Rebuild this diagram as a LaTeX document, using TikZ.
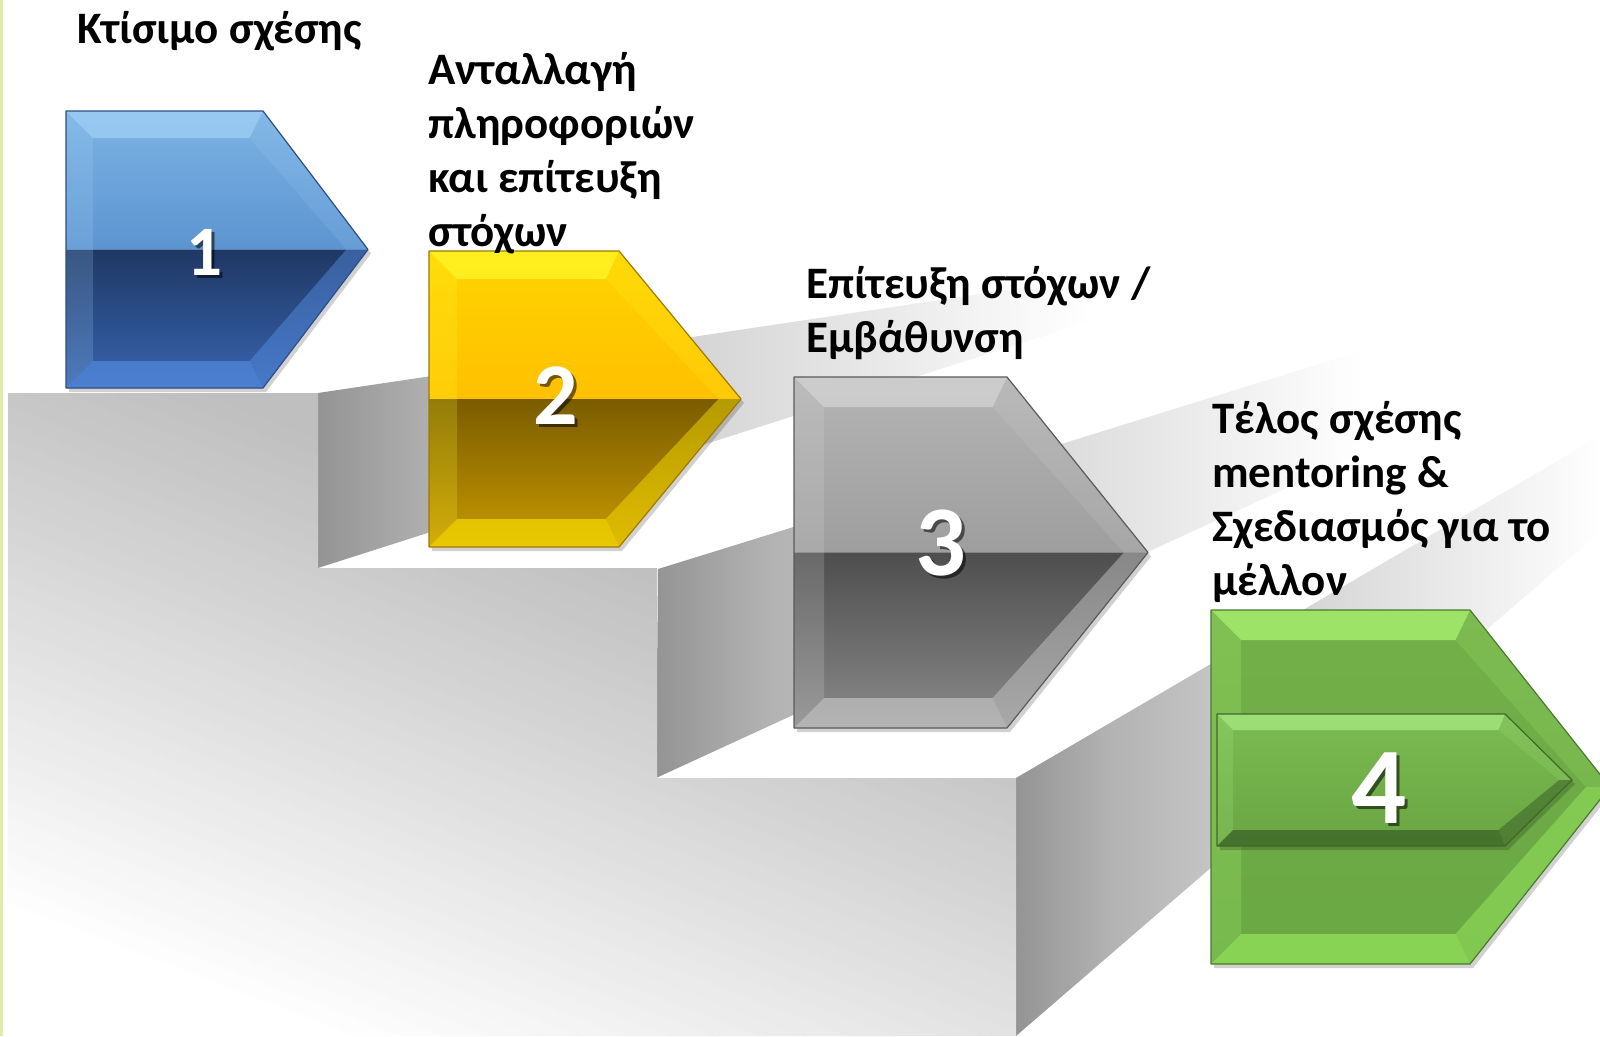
\documentclass[tikz,border=0pt]{standalone}
\usepackage{fontspec}
\setmainfont{Carlito}
\usetikzlibrary{calc}

\pgfdeclarehorizontalshading{riser}{100bp}{color(0bp)=(black!42); color(25bp)=(black!42); color(31bp)=(black!30); color(45bp)=(black!15); color(62.5bp)=(white); color(100bp)=(white)}

\newcommand\setarrowcolors[7]{%
  \definecolor{aUpTop}{HTML}{#1}\definecolor{aUpMid}{HTML}{#2}%
  \definecolor{aLoMid}{HTML}{#3}\definecolor{aLoBot}{HTML}{#4}%
  \definecolor{aHiT}{HTML}{#5}\definecolor{aHiB}{HTML}{#6}\definecolor{aEdge}{HTML}{#7}}

% #1 L, #2 T, #3 R (end of straight part), #4 X (tip), #5 B, #6 bevel width
\newcommand\bevelarrow[6]{%
  \pgfmathsetmacro\aM{(#2+#5)/2}%
  \pgfmathsetmacro\aA{#4-#3}%
  \pgfmathsetmacro\aH{\aM-#2}%
  \pgfmathsetmacro\aLen{100*sqrt((\aA/100)*(\aA/100)+(\aH/100)*(\aH/100))}%
  \pgfmathsetmacro\aNx{\aH/\aLen}%
  \pgfmathsetmacro\aNy{\aA/\aLen}%
  \pgfmathsetmacro\aRi{#3-#6*\aNx+(\aA/\aH)*#6*(1-\aNy)}%
  \pgfmathsetmacro\aXi{#4-0.8*#6}%
  \pgfmathsetmacro\aLi{#1+#6}%
  \pgfmathsetmacro\aTi{#2+#6}%
  \pgfmathsetmacro\aBi{#5-#6}%
  \fill[black,opacity=0.18] (#1+3,#2+4) -- (#3+3,#2+4) -- (#4+3,\aM+4) -- (#3+3,#5+4) -- (#1+3,#5+4) -- cycle;
  \shade[top color=aUpTop,bottom color=aUpMid] (#1,#2) -- (#3,#2) -- (#4,\aM) -- (#1,\aM) -- cycle;
  \shade[top color=aLoMid,bottom color=aLoBot] (#1,\aM) -- (#4,\aM) -- (#3,#5) -- (#1,#5) -- cycle;
  \fill[aHiT,opacity=0.65] (#1,#2) -- (#3,#2) -- (\aRi,\aTi) -- (\aLi,\aTi) -- cycle;
  \fill[aHiT,opacity=0.2] (#1,#2) -- (\aLi,\aTi) -- (\aLi,\aBi) -- (#1,#5) -- cycle;
  \fill[aHiB,opacity=0.6] (#1,#5) -- (\aLi,\aBi) -- (\aRi,\aBi) -- (#3,#5) -- cycle;
  \fill[aHiT,opacity=0.15] (#3,#2) -- (#4,\aM) -- (\aXi,\aM) -- (\aRi,\aTi) -- cycle;
  \fill[aHiB,opacity=0.45] (#4,\aM) -- (#3,#5) -- (\aRi,\aBi) -- (\aXi,\aM) -- cycle;
  \draw[aEdge,line width=1.2pt,line join=round] (#1,#2) -- (#3,#2) -- (#4,\aM) -- (#3,#5) -- (#1,#5) -- cycle;
}

\tikzset{
  lbl/.style={anchor=base west, inner sep=0pt, text=black, font=\fontsize{45}{54}\selectfont\bfseries},
  numtxt/.style={inner sep=0pt, text=white},
  numshadow/.style={inner sep=0pt, text=black, opacity=0.55},
  riserface/.style={shading=riser},
}

\begin{document}
\begin{tikzpicture}[x=1pt,y=-1pt]
\useasboundingbox (0,0) rectangle (1600,1036);
\clip (0,0) rectangle (1600,1036);
\fill[white] (0,0) rectangle (1600,1036);
\fill[color={rgb,255:red,222;green,236;blue,165}] (0,0) rectangle (2.5,1036);

% receding side faces of the steps
\shade[riserface] (318,393) -- (1347,239) -- (318,568) -- cycle;
\shade[riserface] (658,569) -- (1600,277) -- (1600,344) -- (656,778) -- cycle;
\shade[riserface] (1016,778) -- (1800,319) -- (1800,359) -- (1016,1036) -- cycle;

% front face of the staircase
\begin{scope}
\clip (8,393) -- (318,393) -- (318,568) -- (657,568) -- (657,778) -- (1016,778) -- (1016,1036) -- (8,1036) -- cycle;
\foreach \i in {0,...,63}{
  \pgfmathsetmacro\pa{-1000+\i*16}
  \pgfmathsetmacro\pb{\pa+17}
  \pgfmathsetmacro\ff{(\pa+8+965)/962}
  \pgfmathsetmacro\gv{max(0,min(25,22*(\ff-0.12)/0.505))}
  \fill[black!\gv] (0,{(0-(\pa))/0.934}) -- (1100,{(393.8-(\pa))/0.934}) -- (1100,{(393.8-(\pb))/0.934}) -- (0,{(0-(\pb))/0.934}) -- cycle;
}
\end{scope}

% arrows
\setarrowcolors{7DB4E4}{5B94D0}{1F3864}{3864B0}{A6D4F8}{5A92E8}{2E4E84}
\bevelarrow{66}{111}{263}{368}{388}{27}
\setarrowcolors{FFD400}{FFC000}{7A5C00}{C89A00}{FFFF30}{FFE800}{A07800}
\bevelarrow{429}{251}{619}{741}{547}{28}
\setarrowcolors{B4B4B4}{9E9E9E}{4E4E4E}{8A8A8A}{DADADA}{CFCFCF}{5A5A5A}
\bevelarrow{794}{377}{1007}{1148}{728}{30}
\setarrowcolors{74B04A}{6EAB46}{6EAB46}{6AA844}{B4FF78}{9CF060}{4A7A2C}
\bevelarrow{1211}{610}{1470}{1610}{964}{30}
\setarrowcolors{7CBC54}{72B04A}{72B04A}{6AA642}{B0F088}{2E5020}{3E6A28}
\bevelarrow{1217}{714}{1505}{1572}{846}{16}

% numbers
\node[numshadow, font=\fontsize{71}{71}\selectfont\bfseries] (n1s) at (207,255) {1};
\node[numtxt, font=\fontsize{71}{71}\selectfont\bfseries] (n1) at (204,252) {1};
\node[numshadow, font=\fontsize{88}{88}\selectfont\bfseries] (n2s) at (559,399) {2};
\node[numtxt, font=\fontsize{88}{88}\selectfont\bfseries] (n2) at (556,396) {2};
\node[numshadow, font=\fontsize{100}{100}\selectfont\bfseries] (n3s) at (944,546) {3};
\node[numtxt, font=\fontsize{100}{100}\selectfont\bfseries] (n3) at (941,543) {3};
\node[numshadow, font=\fontsize{109}{109}\selectfont\bfseries] (n4s) at (1382,791) {4};
\node[numtxt, font=\fontsize{109}{109}\selectfont\bfseries] (n4) at (1379,788) {4};

% labels
\node[lbl] (t1) at (77,43) {Κτίσιμο σχέσης};
\node[lbl] (t2) at (428,84) {\vtop{\hbox{Ανταλλαγή}\hbox{πληροφοριών}\hbox{και επίτευξη}\hbox{στόχων}}};
\node[lbl] (t3) at (806,298) {\vtop{\hbox{Επίτευξη στόχων /}\hbox{Εμβάθυνση}}};
\node[lbl] (t4) at (1212,433) {\vtop{\hbox{Τέλος σχέσης}\hbox{mentoring \&}\hbox{Σχεδιασμός για το}\hbox{μέλλον}}};
\end{tikzpicture}
\end{document}
